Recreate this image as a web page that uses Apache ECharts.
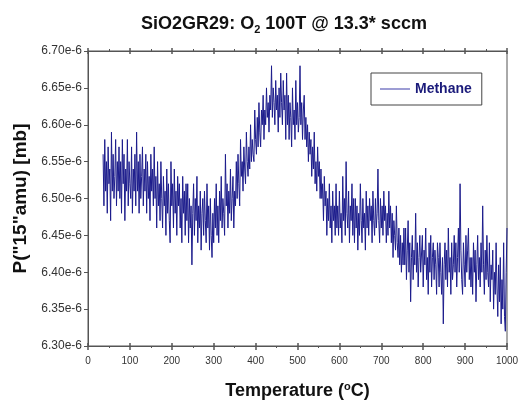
<!DOCTYPE html>
<html>
<head>
<meta charset="utf-8">
<script src="https://cdn.jsdelivr.net/npm/echarts@6/dist/echarts.min.js"></script>
<style>html,body{margin:0;padding:0;background:#fff}#c{width:519px;height:400px}</style>
</head>
<body>
<div id="c"></div>
<script>
// Temperature (°C) sample positions
const temps = [
 36,38,40,42,44,46,48,50,52,54,56,58,60,62,64,66,68,70,72,74,
 76,78,80,82,84,86,88,90,92,94,96,98,100,102,104,106,108,110,112,114,
 116,118,120,122,124,126,128,130,132,134,136,138,140,142,144,146,148,150,152,154,
 156,158,160,162,164,166,168,170,172,174,176,178,180,182,184,186,188,190,192,194,
 196,198,200,202,204,206,208,210,212,214,216,218,220,222,224,226,228,230,232,234,
 236,238,240,242,244,246,248,250,252,254,256,258,260,262,264,266,268,270,272,274,
 276,278,280,282,284,286,288,290,292,294,296,298,300,302,304,306,308,310,312,314,
 316,318,320,322,324,326,328,330,332,334,336,338,340,342,344,346,348,350,352,354,
 356,358,360,362,364,366,368,370,372,374,376,378,380,382,384,386,388,390,392,394,
 396,398,400,402,404,406,408,410,412,414,416,418,420,422,424,426,428,430,432,434,
 436,438,440,442,444,446,448,450,452,454,456,458,460,462,464,466,468,470,472,474,
 476,478,480,482,484,486,488,490,492,494,496,498,500,502,504,506,508,510,512,514,
 516,518,520,522,524,526,528,530,532,534,536,538,540,542,544,546,548,550,552,554,
 556,558,560,562,564,566,568,570,572,574,576,578,580,582,584,586,588,590,592,594,
 596,598,600,602,604,606,608,610,612,614,616,618,620,622,624,626,628,630,632,634,
 636,638,640,642,644,646,648,650,652,654,656,658,660,662,664,666,668,670,672,674,
 676,678,680,682,684,686,688,690,692,694,696,698,700,702,704,706,708,710,712,714,
 716,718,720,722,724,726,728,730,732,734,736,738,740,742,744,746,748,750,752,754,
 756,758,760,762,764,766,768,770,772,774,776,778,780,782,784,786,788,790,792,794,
 796,798,800,802,804,806,808,810,812,814,816,818,820,822,824,826,828,830,832,834,
 836,838,840,842,844,846,848,850,852,854,856,858,860,862,864,866,868,870,872,874,
 876,878,880,882,884,886,888,890,892,894,896,898,900,902,904,906,908,910,912,914,
 916,918,920,922,924,926,928,930,932,934,936,938,940,942,944,946,948,950,952,954,
 956,958,960,962,964,966,968,970,972,974,976,978,980,982,984,986,988,990,992,994,
 996,998,1000
];
// Methane signal, in units of 1e-6 mb
const methane = [
 6.56,6.49,6.58,6.51,6.55,6.48,6.57,6.52,6.54,6.47,6.59,6.51,6.56,6.50,6.53,6.58,6.49,6.55,6.51,6.57,
 6.50,6.55,6.48,6.58,6.52,6.56,6.47,6.54,6.51,6.58,6.49,6.55,6.52,6.50,6.57,6.48,6.54,6.51,6.56,6.49,
 6.59,6.51,6.55,6.48,6.56,6.50,6.53,6.57,6.49,6.54,6.51,6.56,6.48,6.55,6.50,6.53,6.47,6.56,6.51,6.54,
 6.49,6.57,6.50,6.53,6.46,6.55,6.49,6.52,6.47,6.55,6.50,6.46,6.53,6.49,6.51,6.45,6.54,6.48,6.52,6.47,
 6.44,6.55,6.49,6.52,6.46,6.54,6.48,6.51,6.45,6.53,6.49,6.52,6.46,6.50,6.44,6.53,6.48,6.51,6.45,6.52,
 6.47,6.52,6.44,6.50,6.46,6.49,6.41,6.48,6.52,6.45,6.50,6.47,6.53,6.44,6.49,6.46,6.51,6.43,6.48,6.50,
 6.45,6.51,6.47,6.44,6.52,6.46,6.49,6.43,6.50,6.45,6.42,6.48,6.44,6.50,6.46,6.52,6.45,6.49,6.44,6.51,
 6.47,6.53,6.46,6.50,6.48,6.45,6.56,6.49,6.52,6.46,6.51,6.48,6.54,6.47,6.50,6.53,6.46,6.51,6.49,6.55,
 6.50,6.56,6.52,6.49,6.58,6.53,6.55,6.51,6.57,6.54,6.52,6.59,6.55,6.53,6.57,6.54,6.60,6.55,6.58,6.56,
 6.55,6.62,6.58,6.56,6.61,6.57,6.63,6.59,6.57,6.62,6.60,6.64,6.58,6.62,6.60,6.65,6.61,6.63,6.59,6.64,
 6.62,6.68,6.61,6.65,6.63,6.60,6.66,6.62,6.64,6.59,6.65,6.61,6.67,6.63,6.60,6.66,6.62,6.64,6.58,6.67,
 6.60,6.64,6.58,6.63,6.61,6.57,6.65,6.60,6.62,6.58,6.66,6.60,6.63,6.59,6.61,6.68,6.60,6.63,6.58,6.62,
 6.64,6.58,6.61,6.57,6.60,6.55,6.59,6.56,6.58,6.53,6.57,6.54,6.59,6.52,6.55,6.51,6.57,6.53,6.55,6.50,
 6.54,6.50,6.52,6.47,6.53,6.49,6.51,6.45,6.50,6.47,6.52,6.46,6.49,6.44,6.51,6.47,6.49,6.45,6.52,6.46,
 6.49,6.45,6.51,6.46,6.48,6.44,6.53,6.47,6.50,6.45,6.55,6.48,6.46,6.51,6.44,6.49,6.47,6.52,6.45,6.50,
 6.44,6.50,6.46,6.49,6.43,6.48,6.45,6.52,6.47,6.44,6.50,6.46,6.48,6.43,6.51,6.46,6.49,6.45,6.50,6.47,
 6.49,6.44,6.51,6.47,6.45,6.50,6.46,6.48,6.54,6.47,6.44,6.50,6.46,6.49,6.45,6.51,6.47,6.49,6.44,6.48,
 6.45,6.51,6.46,6.49,6.44,6.48,6.42,6.47,6.45,6.43,6.49,6.44,6.42,6.46,6.41,6.45,6.40,6.44,6.41,6.46,
 6.41,6.46,6.39,6.43,6.47,6.40,6.44,6.36,6.42,6.45,6.39,6.43,6.41,6.48,6.40,6.44,6.38,6.42,6.45,6.40,
 6.40,6.45,6.38,6.43,6.41,6.46,6.39,6.42,6.37,6.44,6.40,6.45,6.38,6.42,6.44,6.39,6.43,6.41,6.37,6.44,
 6.42,6.38,6.44,6.40,6.37,6.42,6.33,6.41,6.44,6.39,6.43,6.38,6.46,6.40,6.42,6.37,6.44,6.39,6.41,6.45,
 6.40,6.44,6.38,6.42,6.46,6.40,6.52,6.43,6.39,6.37,6.44,6.41,6.38,6.45,6.40,6.43,6.46,6.39,6.42,6.38,
 6.42,6.37,6.44,6.40,6.43,6.36,6.41,6.45,6.39,6.42,6.38,6.44,6.40,6.49,6.41,6.37,6.43,6.39,6.45,6.40,
 6.38,6.44,6.36,6.41,6.39,6.43,6.35,6.40,6.37,6.44,6.38,6.34,6.41,6.36,6.42,6.33,6.39,6.35,6.44,6.34,
 6.32,6.40,6.46
];
const yTickMin = 6.30, yTickMax = 6.70, yTickStep = 0.05;
const xTickMin = 0, xTickMax = 1000, xTickStep = 100;

const points = temps.map((t, i) => [t, methane[i]]);
const chart = echarts.init(document.getElementById('c'), null, {renderer: 'canvas'});
const axisCol = '#555';
const fontFam = '"Liberation Sans", Arial, sans-serif';
const baseX = {
  type: 'value', min: xTickMin, max: xTickMax, interval: xTickStep, gridIndex: 0,
  splitLine: {show: false},
  axisLine: {show: true, onZero: false, lineStyle: {color: axisCol, width: 1}},
  minorTick: {show: true, splitNumber: 2, length: 2, lineStyle: {color: axisCol}},
  axisTick: {show: true, length: 4, lineStyle: {color: axisCol, width: 1.5}}
};
chart.setOption({
  animation: false,
  backgroundColor: '#fff',
  title: {
    text: '{b|SiO2GR29: O}{s|2}{b| 100T @ 13.3* sccm}',
    left: 279, top: 9, textAlign: 'center',
    textStyle: {
      rich: {
        b: {fontFamily: fontFam, fontWeight: 'bold', fontSize: 18, color: '#111'},
        s: {fontFamily: fontFam, fontWeight: 'bold', fontSize: 11, color: '#111', verticalAlign: 'bottom', padding: [10, 0, 0, 0]}
      }
    }
  },
  grid: {left: 88, right: 12, top: 51, bottom: 54, show: true, borderColor: axisCol, borderWidth: 1, containLabel: false, outerBoundsMode: 'none'},
  legend: {
    left: 371, top: 73, padding: [9, 10, 9, 9],
    borderColor: '#444', borderWidth: 1, backgroundColor: '#fff',
    itemWidth: 30, itemHeight: 14,
    textStyle: {fontFamily: fontFam, fontWeight: 'bold', fontSize: 14, color: '#1a1a7a'},
    data: [{name: 'Methane', icon: 'path://M0,6.5 L30,6.5 L30,7.5 L0,7.5 Z', itemStyle: {color: '#3a3aa8'}}]
  },
  xAxis: [
    Object.assign({}, baseX, {
      position: 'bottom',
      name: '{n|Temperature (}{o|o}{n|C)}', nameLocation: 'middle', nameGap: 35,
      nameTextStyle: {rich: {
        n: {fontFamily: fontFam, fontWeight: 'bold', fontSize: 18, color: '#111'},
        o: {fontFamily: fontFam, fontWeight: 'bold', fontSize: 11, color: '#111', verticalAlign: 'top', padding: [0, 0, 9, 0]}
      }},
      axisLabel: {fontFamily: fontFam, fontSize: 10, color: '#333', margin: 10, formatter: v => String(v)}
    }),
    Object.assign({}, baseX, {position: 'bottom', axisTick: {show: true, inside: true, length: 3, lineStyle: {color: axisCol, width: 1.5}}, minorTick: {show: false}, axisLabel: {show: false}}),
    Object.assign({}, baseX, {position: 'top', axisLabel: {show: false}, axisTick: {show: true, length: 3, lineStyle: {color: axisCol, width: 1.5}}, minorTick: {show: true, splitNumber: 2, length: 2, lineStyle: {color: axisCol}}}),
    Object.assign({}, baseX, {position: 'top', axisLabel: {show: false}, axisTick: {show: true, inside: true, length: 3, lineStyle: {color: axisCol, width: 1.5}}, minorTick: {show: false}})
  ],
  yAxis: {
    type: 'value', min: yTickMin, max: yTickMax, interval: yTickStep,
    name: 'P("15"amu) [mb]', nameLocation: 'middle', nameGap: 56,
    nameTextStyle: {fontFamily: fontFam, fontWeight: 'bold', fontSize: 19, color: '#111'},
    splitLine: {show: false},
    axisLine: {show: true, lineStyle: {color: axisCol}},
    axisTick: {show: true, length: 4, lineStyle: {color: axisCol}},
    axisLabel: {fontFamily: fontFam, fontSize: 12, color: '#333', margin: 6,
      formatter: v => v.toFixed(2) + 'e-6'}
  },
  series: [{
    name: 'Methane', type: 'line', xAxisIndex: 0, data: points,
    symbol: 'none', showSymbol: false,
    lineStyle: {color: '#1c1c8c', width: 1},
    itemStyle: {color: '#1c1c8c'}
  }]
});
</script>
</body>
</html>
